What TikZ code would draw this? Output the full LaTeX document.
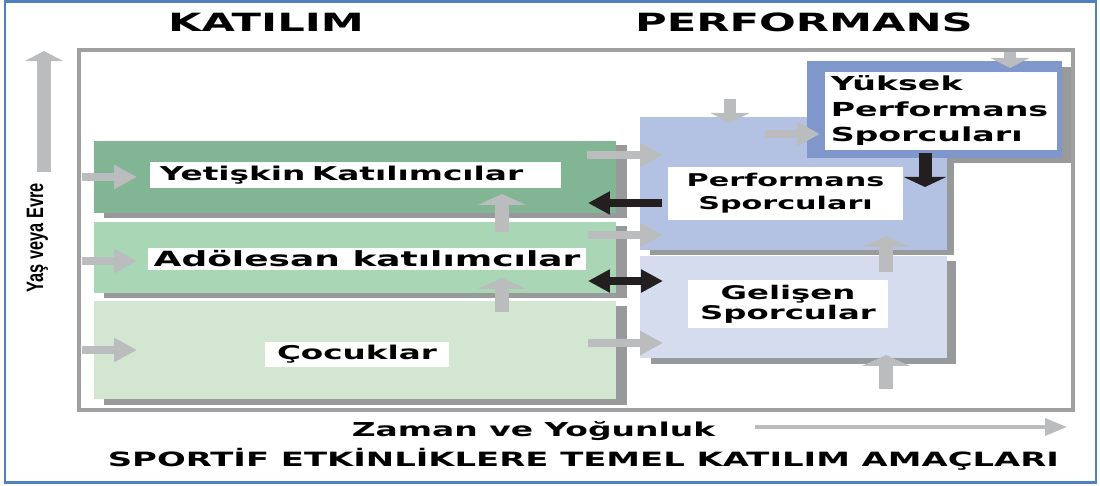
\documentclass[tikz,border=0pt]{standalone}
\usepackage{fontspec}
\usetikzlibrary{arrows.meta}
\usetikzlibrary{calc}
\usetikzlibrary{backgrounds}
\newfontfamily\widefont{DejaVu Sans Bold}[FakeStretch=1.72]
\newfontfamily\narrowfont{Liberation Sans Bold}[FakeStretch=0.69]
\definecolor{pageblue}{RGB}{79,129,189}
\definecolor{framegray}{RGB}{160,160,162}
\definecolor{shadowgray}{RGB}{152,153,155}
\definecolor{arrowgray}{RGB}{187,188,190}
\definecolor{arrowblack}{RGB}{35,31,32}
\definecolor{adultgreen}{RGB}{130,181,147}
\definecolor{teengreen}{RGB}{169,214,181}
\definecolor{childgreen}{RGB}{211,230,210}
\definecolor{perfblue}{RGB}{179,194,226}
\definecolor{devblue}{RGB}{213,220,238}
\definecolor{eliteblue}{RGB}{127,151,203}
\tikzset{
  region/.style={inner sep=0pt, outer sep=0pt},
  labelbox/.style={fill=white, inner xsep=0pt, inner ysep=0pt},
  axisarrow/.style={arrowgray, line width=7.9pt, -{Triangle[length=5.7pt, width=21.5pt]}},
  sidearrow/.style={arrowgray, line width=4pt, -{Triangle[length=13pt, width=13pt]}},
  liftarrow/.style={arrowgray, line width=7.9pt, -{Triangle[length=6.2pt, width=27pt]}},
  droparrow/.style={arrowgray, line width=6.5pt, -{Triangle[length=5.7pt, width=22pt]}},
  darkarrow/.style={arrowblack, line width=4.5pt, -{Triangle[length=12.5pt, width=12.5pt]}},
  darkdrop/.style={arrowblack, line width=7.4pt, -{Triangle[length=5.7pt, width=24pt]}},
  timearrow/.style={arrowgray, line width=2.3pt, -{Triangle[length=12.5pt, width=9.6pt]}}
}

\begin{document}
\begin{tikzpicture}[x=0.02cm, y=-0.02cm]
  \useasboundingbox (0,0) rectangle (1100,486);
  \draw[pageblue, line width=1.4pt] (5,1.5) rectangle (1096,482.5);

  \node[font=\widefont\fontsize{14.3}{16}\selectfont, anchor=base] (katilim) at (266,32) {KATILIM};
  \node[font=\widefont\fontsize{14.3}{16}\selectfont, anchor=base] (performans) at (804,32) {PERFORMANS};

  \draw[framegray, line width=2.3pt] (79,50) rectangle (1073,410);

  % age axis
  \coordinate (age0) at (44,172);
  \coordinate (age1) at (44,51);
  \draw[axisarrow] (age0) -- (age1);
  \node[font=\narrowfont\fontsize{13.5}{15}\selectfont, rotate=90, anchor=base] (yas) at (43,238) {Yaş veya Evre};

  % participation side
  \node[region, fill=adultgreen, minimum width=297.1pt, minimum height=40.8pt] (yet) at (355,177) {};
  \node[region, fill=teengreen, minimum width=297.1pt, minimum height=40.3pt] (ado) at (355,257.5) {};
  \node[region, fill=childgreen, minimum width=297.1pt, minimum height=55.6pt] (coc) at (355,350) {};

  % performance side
  \node[region, fill=perfblue, minimum width=175.2pt, minimum height=75.4pt] (perf) at (793.5,183.5) {};
  \node[region, fill=devblue, minimum width=175.2pt, minimum height=57.8pt] (gel) at (793.5,307) {};
  \node[region, fill=eliteblue, minimum width=144.6pt, minimum height=55pt] (yuk) at (934.5,109.5) {};

  \begin{scope}[on background layer]
    \fill[shadowgray] ($(yet.north west)+(10,4)$) rectangle ($(yet.south east)+(11,5)$);
    \fill[shadowgray] ($(ado.north west)+(10,4)$) rectangle ($(ado.south east)+(11,5)$);
    \fill[shadowgray] ($(coc.north west)+(10,5)$) rectangle ($(coc.south east)+(11,6)$);
    \fill[shadowgray] ($(perf.north west)+(10,6)$) rectangle ($(perf.south east)+(7,5)$);
    \fill[shadowgray] ($(gel.north west)+(11,5)$) rectangle ($(gel.south east)+(9,6)$);
    \fill[shadowgray] ($(yuk.north west)+(10,6)$) rectangle ($(yuk.south east)+(10,5)$);
  \end{scope}

  \node[labelbox, font=\widefont\fontsize{10.85}{12}\selectfont, align=left, text width=222.8pt, inner xsep=5.7pt, minimum height=14.7pt] (yetlabel) at (355.5,175) {Yetişkin Katılımcılar};
  \node[labelbox, font=\widefont\fontsize{11.9}{13}\selectfont, minimum width=249.5pt, minimum height=12.5pt] (adolabel) at (367,259) {Adölesan katılımcılar};
  \node[labelbox, font=\widefont\fontsize{10.8}{12}\selectfont, minimum width=104.3pt, minimum height=14.2pt] (coclabel) at (357,354.5) {Çocuklar};
  \node[labelbox, font=\widefont\fontsize{10}{13}\selectfont, align=center, minimum width=133.2pt, minimum height=30pt] (perflabel) at (785.5,193.5) {Performans\\Sporcuları};
  \node[labelbox, font=\widefont\fontsize{11}{14.5}\selectfont, align=left, text width=125.5pt, inner xsep=3pt, minimum height=44.2pt] (yuklabel) at (941,111) {Yüksek\\Performans\\Sporcuları};
  \node[labelbox, font=\widefont\fontsize{10.7}{11.3}\selectfont, align=center, minimum width=113.4pt, minimum height=27.2pt] (gellabel) at (788,304) {Gelişen\\Sporcular};

  % entry arrows
  \coordinate (inY0) at (82,177);  \coordinate (inY1) at (137,177);
  \coordinate (inA0) at (82,261);  \coordinate (inA1) at (137,261);
  \coordinate (inC0) at (82,350);  \coordinate (inC1) at (137,350);
  \draw[sidearrow] (inY0) -- (inY1);
  \draw[sidearrow] (inA0) -- (inA1);
  \draw[sidearrow] (inC0) -- (inC1);

  \coordinate (upA0) at (502,232); \coordinate (upA1) at (502,194);
  \coordinate (upC0) at (502,312); \coordinate (upC1) at (502,278);
  \draw[liftarrow] (upA0) -- (upA1);
  \draw[liftarrow] (upC0) -- (upC1);

  \coordinate (toP0) at (587,155); \coordinate (toP1) at (663,155);
  \coordinate (toA0) at (588,235); \coordinate (toA1) at (663,235);
  \coordinate (toC0) at (588,343); \coordinate (toC1) at (663,343);
  \draw[sidearrow] (toP0) -- (toP1);
  \draw[sidearrow] (toA0) -- (toA1);
  \draw[sidearrow] (toC0) -- (toC1);

  \coordinate (back0) at (662,203); \coordinate (back1) at (588,203);
  \coordinate (swap0) at (588,281); \coordinate (swap1) at (663,281);
  \draw[darkarrow] (back0) -- (back1);
  \draw[darkarrow, {Triangle[length=12.5pt, width=12.5pt]}-{Triangle[length=12.5pt, width=12.5pt]}] (swap0) -- (swap1);

  % performance arrows
  \coordinate (dropP0) at (730,99);  \coordinate (dropP1) at (730,123);
  \coordinate (toE0) at (765,134);   \coordinate (toE1) at (820,134);
  \coordinate (dropE0) at (1010,52); \coordinate (dropE1) at (1010,68);
  \draw[droparrow] (dropP0) -- (dropP1);
  \draw[sidearrow] (toE0) -- (toE1);
  \draw[droparrow] (dropE0) -- (dropE1);

  \coordinate (fall0) at (925,153); \coordinate (fall1) at (925,187);
  \draw[darkdrop] (fall0) -- (fall1);

  \coordinate (upP0) at (886,272); \coordinate (upP1) at (886,236);
  \coordinate (upG0) at (886,389); \coordinate (upG1) at (886,355);
  \draw[liftarrow] (upP0) -- (upP1);
  \draw[liftarrow] (upG0) -- (upG1);

  % bottom
  \node[font=\widefont\fontsize{10.9}{12}\selectfont, anchor=base] (zaman) at (533.5,437) {Zaman ve Yoğunluk};
  \coordinate (time0) at (755,427); \coordinate (time1) at (1067,427);
  \draw[timearrow] (time0) -- (time1);
  \node[font=\widefont\fontsize{11.2}{12}\selectfont, anchor=base] (amac) at (583.5,467) {SPORTİF ETKİNLİKLERE TEMEL KATILIM AMAÇLARI};
\end{tikzpicture}
\end{document}
